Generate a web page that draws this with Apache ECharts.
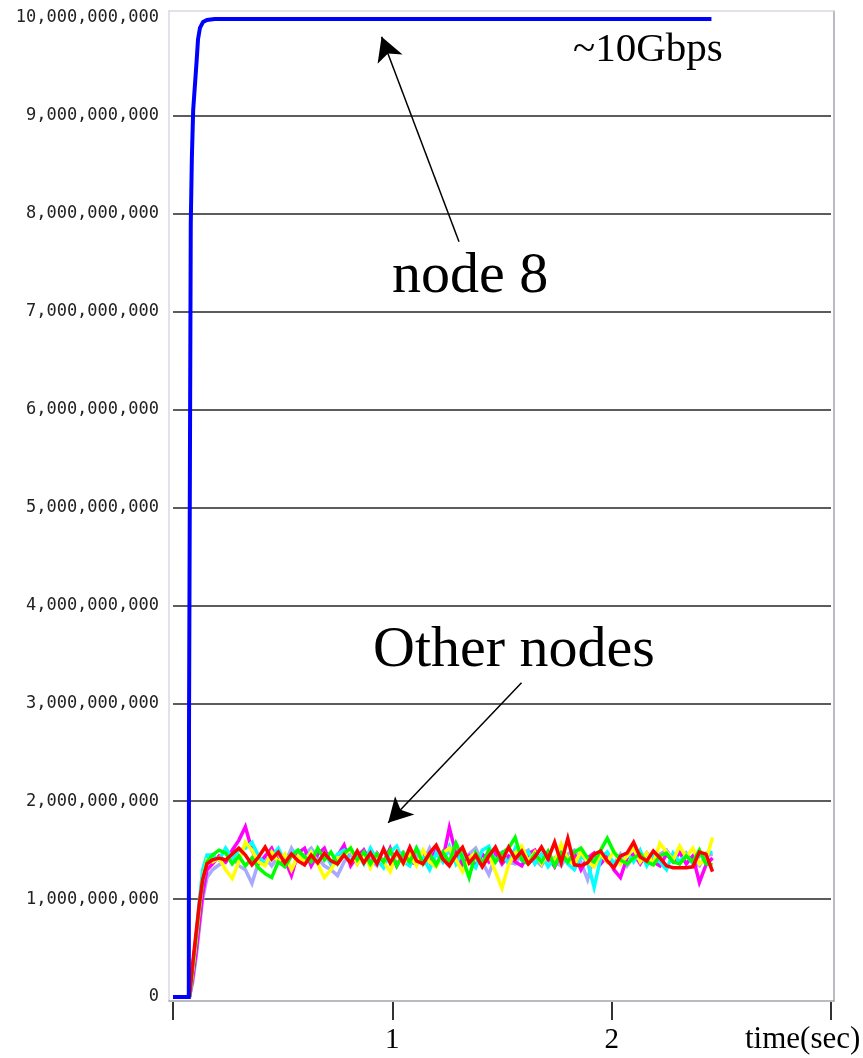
<!DOCTYPE html>
<html><head><meta charset="utf-8">
<script src="https://cdn.jsdelivr.net/npm/echarts@6/dist/echarts.min.js"></script>
<style>html,body{margin:0;padding:0;background:#fff}#c{width:863px;height:1058px}</style>
</head><body><div id="c"></div>
<script>
// Tick labels
const yTickLabels = ['0','1,000,000,000','2,000,000,000','3,000,000,000','4,000,000,000','5,000,000,000',
  '6,000,000,000','7,000,000,000','8,000,000,000','9,000,000,000','10,000,000,000'];
const xTickLabels = ['', '1', '2', ''];

// node 8 (values in units of 1,000,000,000 bps)
const node8Times  = [0, 0.072, 0.073, 0.077, 0.081, 0.086, 0.092, 0.108, 0.114, 0.123, 0.137, 0.155, 0.19, 2.455];
const node8Values = [0, 0, 2.74, 5.34, 7.9, 8.57, 9.06, 9.57, 9.78, 9.9, 9.96, 9.98, 9.99, 9.99];

// other nodes sample times (sec)
const times = [0.075,0.09,0.105,0.12,0.135,0.155,
  0.18,0.21,0.24,0.27,0.30,0.33,0.36,0.39,0.42,0.45,
  0.48,0.51,0.54,0.57,0.60,0.63,0.66,0.69,0.72,0.75,
  0.78,0.81,0.84,0.87,0.90,0.93,0.96,0.99,1.02,1.05,
  1.08,1.11,1.14,1.17,1.20,1.23,1.26,1.29,1.32,1.35,
  1.38,1.41,1.44,1.47,1.50,1.53,1.56,1.59,1.62,1.65,
  1.68,1.71,1.74,1.77,1.80,1.83,1.86,1.89,1.92,1.95,
  1.98,2.01,2.04,2.07,2.10,2.13,2.16,2.19,2.22,2.25,
  2.28,2.31,2.34,2.37,2.40,2.43,2.46];

const lavender = [0,0.15,0.4,0.7,1.0,1.22,
  1.30,1.35,1.38,1.44,1.34,1.30,1.16,1.38,1.42,1.34,
  1.44,1.36,1.52,1.40,1.46,1.52,1.42,1.34,1.30,1.24,
  1.38,1.46,1.36,1.50,1.40,1.34,1.52,1.38,1.44,1.48,
  1.36,1.46,1.38,1.52,1.36,1.44,1.48,1.38,1.34,1.46,
  1.52,1.38,1.25,1.44,1.48,1.38,1.36,1.46,1.50,1.40,
  1.34,1.47,1.38,1.34,1.46,1.50,1.38,1.20,1.44,1.48,
  1.38,1.36,1.46,1.34,1.44,1.48,1.38,1.36,1.46,1.50,
  1.40,1.36,1.47,1.38,1.34,1.44,1.46];
const magenta = [0,0.2,0.45,0.75,1.05,1.3,
  1.36,1.44,1.38,1.50,1.60,1.74,1.50,1.36,1.44,1.52,
  1.38,1.40,1.24,1.47,1.52,1.34,1.46,1.52,1.36,1.44,
  1.55,1.34,1.44,1.50,1.36,1.47,1.38,1.52,1.34,1.46,
  1.38,1.36,1.48,1.38,1.50,1.40,1.73,1.46,1.36,1.44,
  1.34,1.46,1.38,1.48,1.36,1.44,1.38,1.34,1.46,1.50,
  1.36,1.44,1.33,1.47,1.38,1.46,1.30,1.42,1.47,1.36,
  1.44,1.30,1.22,1.42,1.46,1.36,1.47,1.38,1.34,1.46,
  1.38,1.48,1.36,1.44,1.17,1.35,1.42];
const cyan = [0,0.3,0.62,0.98,1.3,1.45,
  1.45,1.40,1.52,1.42,1.50,1.52,1.58,1.44,1.36,1.44,
  1.52,1.38,1.47,1.50,1.40,1.49,1.38,1.47,1.36,1.46,
  1.50,1.38,1.47,1.36,1.52,1.40,1.32,1.48,1.54,1.38,
  1.34,1.52,1.42,1.30,1.47,1.38,1.54,1.36,1.48,1.38,
  1.32,1.50,1.54,1.38,1.47,1.36,1.52,1.40,1.48,1.36,
  1.46,1.33,1.42,1.47,1.36,1.30,1.44,1.38,1.12,1.42,
  1.48,1.36,1.44,1.47,1.38,1.50,1.34,1.46,1.38,1.30,
  1.47,1.38,1.46,1.36,1.44,1.47,1.48];
const yellow = [0,0.28,0.58,0.9,1.2,1.4,
  1.38,1.42,1.30,1.21,1.38,1.58,1.50,1.38,1.34,1.48,
  1.38,1.46,1.30,1.44,1.38,1.48,1.36,1.22,1.30,1.42,
  1.44,1.52,1.36,1.47,1.32,1.46,1.38,1.28,1.48,1.36,
  1.46,1.34,1.50,1.38,1.33,1.47,1.52,1.40,1.28,1.42,
  1.47,1.36,1.46,1.28,1.11,1.35,1.47,1.54,1.38,1.48,
  1.36,1.47,1.38,1.56,1.40,1.36,1.48,1.38,1.33,1.46,
  1.38,1.49,1.36,1.44,1.52,1.38,1.47,1.36,1.57,1.48,
  1.40,1.54,1.43,1.52,1.36,1.40,1.63];
const green = [0,0.3,0.6,0.92,1.18,1.38,
  1.45,1.50,1.47,1.36,1.44,1.34,1.42,1.32,1.26,1.22,
  1.38,1.33,1.44,1.50,1.43,1.38,1.52,1.40,1.48,1.36,
  1.47,1.52,1.40,1.48,1.36,1.46,1.38,1.50,1.34,1.47,
  1.38,1.52,1.36,1.46,1.35,1.48,1.38,1.57,1.42,1.22,
  1.47,1.36,1.50,1.38,1.47,1.52,1.63,1.40,1.36,1.46,
  1.38,1.49,1.34,1.47,1.38,1.48,1.52,1.42,1.38,1.50,
  1.62,1.48,1.40,1.36,1.42,1.46,1.38,1.35,1.44,1.47,
  1.38,1.36,1.44,1.38,1.50,1.36,1.35];
const red = [0,0.35,0.65,0.95,1.2,1.36,
  1.40,1.42,1.40,1.46,1.52,1.45,1.35,1.43,1.53,1.41,
  1.48,1.37,1.46,1.39,1.35,1.45,1.37,1.47,1.39,1.36,
  1.45,1.37,1.49,1.37,1.47,1.36,1.51,1.37,1.48,1.37,
  1.53,1.39,1.36,1.47,1.55,1.41,1.34,1.45,1.53,1.37,
  1.45,1.33,1.44,1.53,1.39,1.53,1.41,1.49,1.36,1.43,
  1.53,1.41,1.58,1.37,1.62,1.35,1.34,1.37,1.46,1.49,
  1.39,1.32,1.44,1.47,1.58,1.43,1.39,1.49,1.42,1.34,
  1.32,1.32,1.32,1.33,1.48,1.46,1.28];

// annotation arrows [tail, head] in data units
const arrowNode8  = [[1.304, 7.715], [0.951, 9.809]];
const arrowOthers = [[1.589, 3.21], [0.981, 1.78]];

const pair = (ts, vs) => ts.map((t, i) => [t, vs[i]]);
const gridColors = yTickLabels.map((_, i) => (i === 0 || i === yTickLabels.length - 1) ? 'rgba(0,0,0,0)' : '#262626');

const chart = echarts.init(document.getElementById('c'), null, {renderer: 'canvas'});
const frameAxis = (pos, color) => ({
  type: 'value', gridIndex: 1, min: 0, max: 1, position: pos,
  axisLine: {show: true, onZero: false, lineStyle: {color: color, width: 1.5}},
  axisTick: {show: false}, axisLabel: {show: false}, splitLine: {show: false}
});
const lineSeries = (name, data, color, w) => ({
  name, type: 'line', data, xAxisIndex: 0, yAxisIndex: 0, showSymbol: false, symbol: 'none',
  lineStyle: {color, width: w, join: 'miter'}, itemStyle: {color}, silent: true, z: 2
});

const option = {
  animation: false,
  backgroundColor: '#fff',
  grid: [
    {left: 173, right: 32, top: 18, bottom: 61},
    {left: 169, right: 29, top: 11, bottom: 57}
  ],
  xAxis: [
    {type: 'value', gridIndex: 0, min: 0, max: 3, interval: 1, position: 'bottom', offset: 5,
     axisLine: {show: false, onZero: false},
     axisTick: {show: true, length: 18, lineStyle: {color: '#333', width: 2}},
     splitLine: {show: false},
     axisLabel: {formatter: v => xTickLabels[Math.round(v)] || '', fontFamily: 'Liberation Serif', fontSize: 29, color: '#000', margin: 24}},
    frameAxis('bottom', '#a4a4ac'),
    frameAxis('top', '#d8d8e6')
  ],
  yAxis: [
    {type: 'value', gridIndex: 0, min: 0, max: 10, interval: 1,
     axisLine: {show: false}, axisTick: {show: false},
     splitLine: {show: true, lineStyle: {color: gridColors, width: 1.6}},
     axisLabel: {formatter: v => yTickLabels[Math.round(v)], fontFamily: 'DejaVu Sans Mono', fontSize: 17, color: '#222', margin: 14, padding: [0, 0, 5, 0]}},
    frameAxis('left', '#d8d8e6'),
    frameAxis('right', '#a4a4ac')
  ],
  series: [
    lineSeries('lavender', pair(times, lavender), '#a8a8ff', 3.5),
    lineSeries('magenta', pair(times, magenta), '#ff00ff', 3.5),
    lineSeries('cyan', pair(times, cyan), '#00ffff', 3.5),
    lineSeries('yellow', pair(times, yellow), '#ffff00', 3.5),
    lineSeries('green', pair(times, green), '#00ff00', 3.5),
    Object.assign(lineSeries('red', pair(times, red), '#ff0000', 3.5), {
      markLine: {
        silent: true, animation: false,
        symbol: ['none', 'arrow'], symbolSize: [20, 24],
        label: {show: false},
        lineStyle: {color: '#000', width: 1.5, type: 'solid'},
        emphasis: {disabled: true},
        data: [
          [{coord: arrowNode8[0]}, {coord: arrowNode8[1]}],
          [{coord: arrowOthers[0]}, {coord: arrowOthers[1]}]
        ]
      }
    }),
    lineSeries('node 8', pair(node8Times, node8Values), '#0000ff', 4)
  ],
  graphic: [
    {type: 'text', left: 573, top: 30, style: {text: '~10Gbps', font: '41px "Liberation Serif"', fill: '#000'}},
    {type: 'text', left: 392, top: 248, style: {text: 'node 8', font: '58px "Liberation Serif"', fill: '#000'}},
    {type: 'text', left: 373, top: 622, style: {text: 'Other nodes', font: '58px "Liberation Serif"', fill: '#000'}},
    {type: 'text', left: 745, top: 1024, style: {text: 'time(sec)', font: '31px "Liberation Serif"', fill: '#000'}}
  ]
};
chart.setOption(option);
</script>
</body></html>
